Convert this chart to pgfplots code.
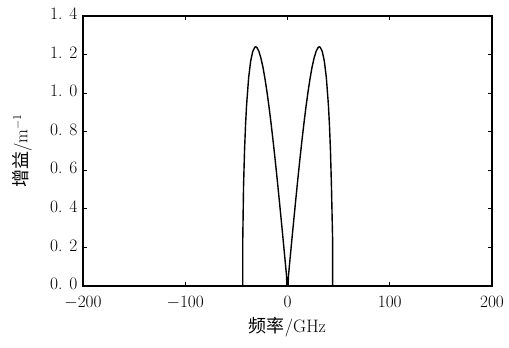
\documentclass[border=0pt]{standalone}
\usepackage{fontspec}
\usepackage{pgfplots}
\pgfplotsset{compat=1.18}
\newfontfamily\cjk{Noto Sans CJK SC}
\begin{document}
\begin{tikzpicture}
\useasboundingbox (0,0) rectangle (509pt,348pt);
\begin{axis}[
  at={(83pt,62pt)}, anchor=south west,
  scale only axis, width=409pt, height=270pt,
  xmin=-200, xmax=200, ymin=0, ymax=1.4,
  xtick={-200,-100,0,100,200},
  ytick={0,0.2,0.4,0.6,0.8,1.0,1.2,1.4},
  yticklabels={0.\hspace{0.4em}0,0.\hspace{0.4em}2,0.\hspace{0.4em}4,0.\hspace{0.4em}6,0.\hspace{0.4em}8,1.\hspace{0.4em}0,1.\hspace{0.4em}2,1.\hspace{0.4em}4},
  tick align=inside, major tick length=4pt,
  tick style={black, line width=0.8pt},
  axis line style={line width=1.2pt},
  every tick label/.append style={font=\fontsize{17.5}{19}\selectfont},
  yticklabel shift=2pt,
  xticklabel shift=7pt,
  yticklabel style={yshift=2pt},
  xlabel={{\cjk 频率}/GHz},
  ylabel={{\cjk 增益}/m$^{-1}$},
  every axis label/.append style={font=\fontsize{18}{20}\selectfont},
  xlabel style={at={(axis description cs:0.5,-0.152)}, anchor=center},
  ylabel style={at={(axis description cs:-0.149,0.5)}, anchor=center, rotate=0},
]
\addplot[black, line width=1.4pt] coordinates {
(-200,0) (-43.8,0) (-43.8,0.22) (-43,0.514) (-42,0.706) (-41,0.839) (-40,0.939)
(-38,1.080) (-36,1.167) (-34,1.216) (-32,1.238) (-31,1.240) (-30,1.237)
(-28,1.217) (-26,1.182) (-24,1.134) (-22,1.074) (-20,1.004) (-18,0.926)
(-16,0.840) (-14,0.748) (-12,0.651) (-10,0.549) (-8,0.443) (-6,0.335)
(-4,0.225) (-2,0.113) (-1,0.056) (-0.5,0) (0.5,0)
(1,0.056) (2,0.113) (4,0.225) (6,0.335) (8,0.443) (10,0.549) (12,0.651)
(14,0.748) (16,0.840) (18,0.926) (20,1.004) (22,1.074) (24,1.134) (26,1.182)
(28,1.217) (30,1.237) (31,1.240) (32,1.238) (34,1.216) (36,1.167) (38,1.080)
(40,0.939) (41,0.839) (42,0.706) (43,0.514) (44.2,0.22) (44.2,0) (200,0)
};
\end{axis}
\end{tikzpicture}
\end{document}
